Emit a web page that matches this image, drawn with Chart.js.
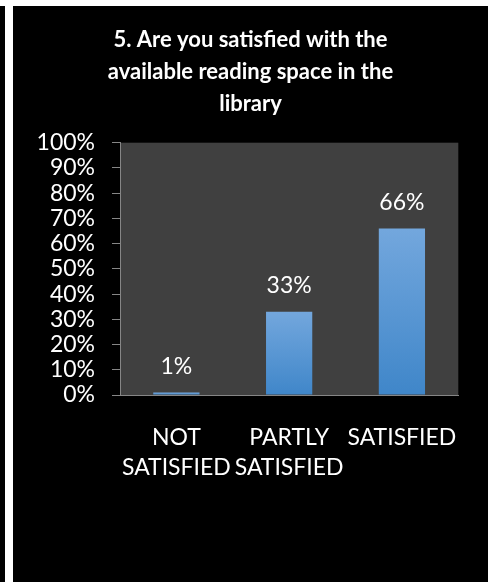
<!DOCTYPE html>
<html>
<head>
<meta charset="utf-8">
<script src="https://cdn.jsdelivr.net/npm/chart.js@4.4.0/dist/chart.umd.min.js"></script>
<style>
  html, body { margin: 0; padding: 0; background: #fff; width: 494px; height: 582px; overflow: hidden; }
  #strip { position: absolute; left: 0; top: 6px; width: 5px; height: 576px; background: #000; }
  #panel { position: absolute; left: 13px; top: 6px; width: 475px; height: 576px; background: #000; }
</style>
</head>
<body>
<div id="strip"></div>
<div id="panel"><canvas id="chart"></canvas></div>
<script>
// survey question 5 - reading space
const titleLines = ['5. Are you satisfied with the', 'available reading space in the', 'library'];
const categories = [['NOT', 'SATISFIED'], ['PARTLY', 'SATISFIED'], ['SATISFIED']];
const shares = [0.01, 0.33, 0.66];
const valueLabels = ['1%', '33%', '66%'];
const yMin = 0;
const yMax = 1;
const yStep = 0.1;

const FONT = 'Lato, "Open Sans", sans-serif';
const AXIS_GREY = '#868686';

// dark grey plot area like the excel chart
const plotBg = {
    id: 'plotBg',
    beforeDraw(chart) {
        const { ctx, chartArea: a } = chart;
        ctx.save();
        ctx.fillStyle = '#404040';
        ctx.fillRect(a.left, a.top, a.right - a.left, a.bottom - a.top);
        ctx.restore();
    }
};

// percentage labels above each bar
const barLabels = {
    id: 'barLabels',
    afterDatasetsDraw(chart) {
        const { ctx } = chart;
        const meta = chart.getDatasetMeta(0);
        ctx.save();
        ctx.fillStyle = '#ffffff';
        ctx.font = '23px ' + FONT;
        ctx.textAlign = 'center';
        ctx.textBaseline = 'middle';
        meta.data.forEach((bar, i) => {
            ctx.fillText(valueLabels[i], bar.x, bar.y - 26);
        });
        ctx.restore();
    }
};

const ctx = document.getElementById('chart').getContext('2d');

new Chart(ctx, {
    type: 'bar',
    data: {
        labels: categories,
        datasets: [{
            data: shares,
            backgroundColor: (c) => {
                const chart = c.chart;
                if (!chart.chartArea) return '#5b9bd5';
                const y = chart.scales.y;
                const top = y.getPixelForValue(c.raw);
                const bottom = y.getPixelForValue(0);
                const g = chart.ctx.createLinearGradient(0, top, 0, bottom + 0.5);
                g.addColorStop(0, '#73a7dd');
                g.addColorStop(1, '#3f86c9');
                return g;
            },
            borderWidth: 0,
            barPercentage: 0.41,
            categoryPercentage: 1.0
        }]
    },
    options: {
        responsive: true,
        maintainAspectRatio: false,
        animation: false,
        layout: { padding: 0 },
        plugins: {
            legend: { display: false },
            tooltip: { enabled: false },
            title: {
                display: true,
                text: titleLines,
                color: '#ffffff',
                font: { family: FONT, size: 22, weight: 'bold', lineHeight: 1.45 },
                padding: { top: 18, bottom: 23 }
            }
        },
        scales: {
            x: {
                grid: { display: true, drawOnChartArea: false, drawTicks: false },
                border: { display: true, color: AXIS_GREY, width: 1 },
                ticks: {
                    color: '#ffffff',
                    font: { family: FONT, size: 23, lineHeight: 1.3 },
                    padding: 28,
                    maxRotation: 0,
                    autoSkip: false
                },
                afterFit(scale) { scale.height = 187; }
            },
            y: {
                min: yMin,
                max: yMax,
                grid: { drawOnChartArea: false, color: AXIS_GREY, tickLength: 8 },
                border: { display: true, color: AXIS_GREY, width: 1 },
                ticks: {
                    stepSize: yStep,
                    autoSkip: false,
                    color: '#ffffff',
                    font: { family: FONT, size: 23 },
                    padding: 17,
                    callback: (v) => Math.round(v * 100) + '%'
                },
                afterFit(scale) { scale.width = 107; }
            },
            // empty right axis, just keeps the black margin on the right
            yRight: {
                position: 'right',
                min: yMin,
                max: yMax,
                grid: { display: false },
                border: { display: false },
                ticks: { display: false },
                afterFit(scale) { scale.width = 22; }
            }
        }
    },
    plugins: [plotBg, barLabels]
});
</script>
</body>
</html>
